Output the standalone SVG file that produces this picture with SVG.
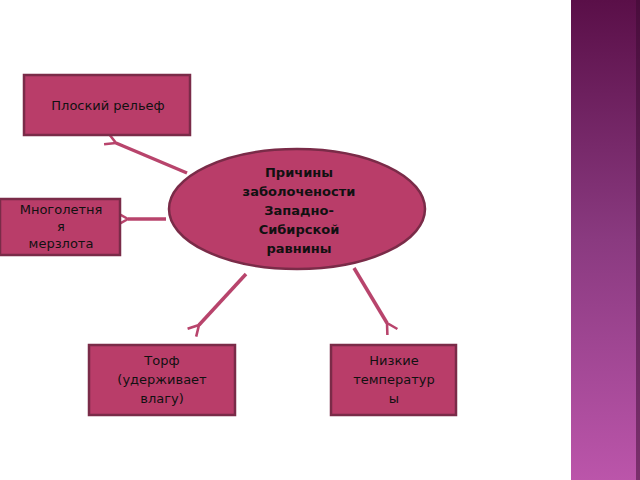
<svg xmlns="http://www.w3.org/2000/svg" width="640" height="480" viewBox="0 0 640 480">
<defs>
<linearGradient id="strip" x1="0" y1="0" x2="0" y2="1"><stop offset="0" stop-color="#5a0f48"/><stop offset="0.5" stop-color="#8a3a80"/><stop offset="1" stop-color="#bb55aa"/></linearGradient>
<marker id="ah" viewBox="0 0 12 12" refX="2" refY="6" markerWidth="4" markerHeight="4" orient="auto-start-reverse"><path d="M11,1 L2,6 L11,11" fill="none" stroke="#b8446c" stroke-width="2.2"/></marker>
</defs>
<style>
.n{fill:#b93d69;stroke:#7a2b48;stroke-width:2.5}
.t{font-family:"DejaVu Sans",sans-serif;font-size:13px;fill:#111;text-anchor:middle}
.b{font-weight:bold}
.c{stroke:#b8446c;stroke-width:3.5;fill:none;marker-end:url(#ah)}
</style>
<rect width="640" height="480" fill="#fff"/>
<rect x="571" y="0" width="69" height="480" fill="url(#strip)"/>
<rect x="636" y="0" width="4" height="480" fill="#3a0a30" opacity="0.5"/>
<g id="connectors">
<line class="c" x1="187" y1="173" x2="116" y2="143"/>
<line class="c" x1="166" y1="219" x2="128" y2="219"/>
<line class="c" x1="246" y1="274" x2="199" y2="325"/>
<line class="c" x1="354" y1="268" x2="387" y2="323"/>
</g>
<g id="center"><ellipse class="n" cx="297" cy="209" rx="128" ry="60"/>
<text class="t b" x="299" y="177">Причины</text><text class="t b" x="299" y="196">заболочености</text><text class="t b" x="299" y="215">Западно-</text><text class="t b" x="299" y="234">Сибирской</text><text class="t b" x="299" y="253">равнины</text></g>
<g id="n1"><rect class="n" x="24" y="75" width="166" height="60"/><text class="t" x="108" y="110">Плоский рельеф</text></g>
<g id="n2"><rect class="n" x="0" y="199" width="120" height="56"/><text class="t" x="61" y="214">Многолетня</text><text class="t" x="61" y="231">я</text><text class="t" x="61" y="248">мерзлота</text></g>
<g id="n3"><rect class="n" x="89" y="345" width="146" height="70"/><text class="t" x="162" y="365">Торф</text><text class="t" x="162" y="384">(удерживает</text><text class="t" x="162" y="403">влагу)</text></g>
<g id="n4"><rect class="n" x="331" y="345" width="125" height="70"/><text class="t" x="394" y="365">Низкие</text><text class="t" x="394" y="384">температур</text><text class="t" x="394" y="403">ы</text></g>
</svg>
